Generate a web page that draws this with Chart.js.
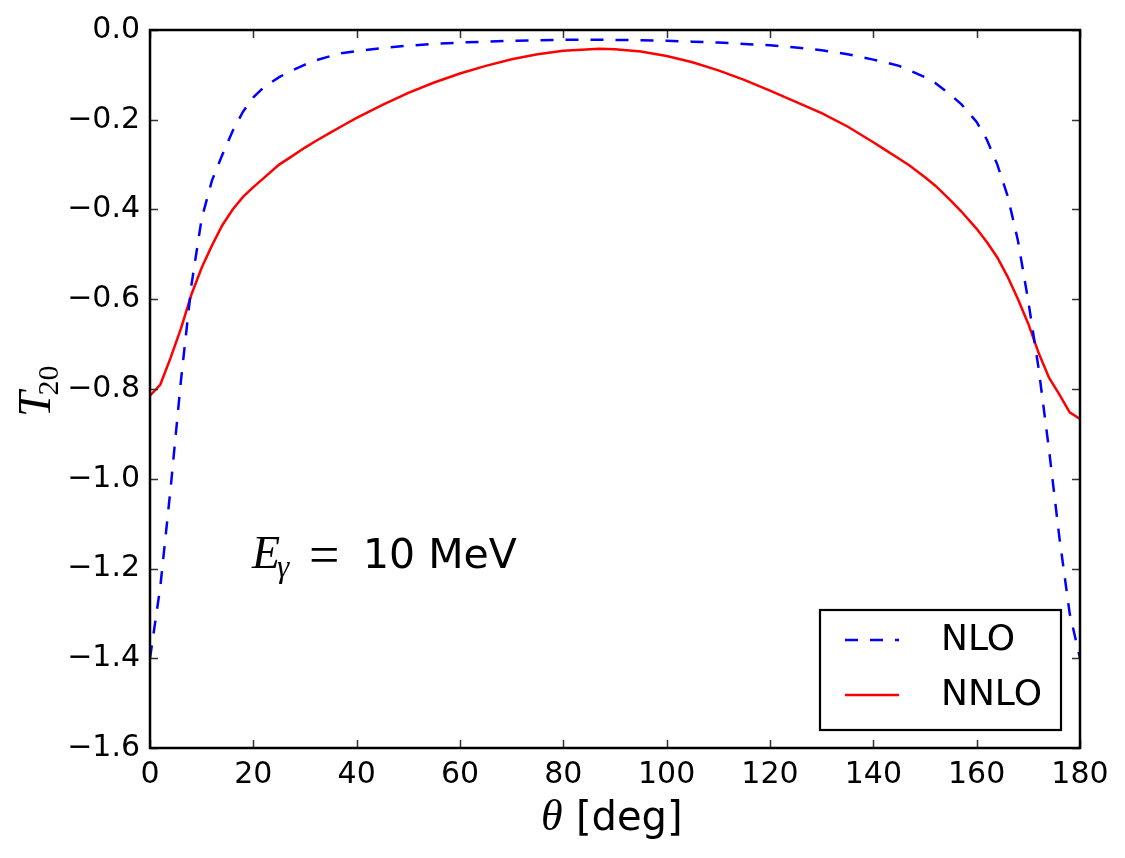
<!DOCTYPE html>
<html>
<head>
<meta charset="utf-8">
<script src="https://cdn.jsdelivr.net/npm/chart.js@4.4.1/dist/chart.umd.min.js"></script>
<style>
  html, body { margin:0; padding:0; background:#fff; }
  #wrap { width:1125px; height:858px; position:relative; }
</style>
</head>
<body>
<div id="wrap"><canvas id="c" width="1125" height="858"></canvas></div>
<script>
/* T20 vs theta at E_gamma = 10 MeV, NLO vs NNLO */

const theta = [0, 2, 4, 6, 8, 10, 12, 14, 16, 18, 20, 22, 25, 27, 30, 32, 35, 37, 40, 45, 50, 55, 60, 65, 70, 75, 80, 87, 90, 95, 100, 105, 110, 115, 120, 125, 130, 135, 140, 142, 145, 147, 150, 152, 155, 157, 160, 162, 164, 166, 168, 170, 172, 174, 176, 178, 180];
const nlo = [-1.40, -1.24, -1.02, -0.78, -0.57, -0.42, -0.335, -0.278, -0.225, -0.182, -0.15, -0.128, -0.105, -0.093, -0.077, -0.068, -0.058, -0.052, -0.047, -0.040, -0.035, -0.031, -0.028, -0.026, -0.024, -0.023, -0.022, -0.022, -0.022, -0.023, -0.024, -0.026, -0.028, -0.031, -0.034, -0.039, -0.045, -0.054, -0.066, -0.071, -0.08, -0.09, -0.105, -0.118, -0.145, -0.165, -0.205, -0.245, -0.30, -0.37, -0.47, -0.605, -0.755, -0.935, -1.13, -1.30, -1.40];
const nnlo = [-0.815, -0.79, -0.73, -0.665, -0.59, -0.53, -0.48, -0.435, -0.40, -0.372, -0.35, -0.33, -0.30, -0.285, -0.262, -0.248, -0.228, -0.215, -0.196, -0.167, -0.14, -0.117, -0.097, -0.08, -0.065, -0.054, -0.046, -0.042, -0.043, -0.048, -0.058, -0.072, -0.09, -0.111, -0.135, -0.16, -0.185, -0.215, -0.25, -0.265, -0.287, -0.302, -0.328, -0.347, -0.38, -0.404, -0.443, -0.473, -0.507, -0.55, -0.60, -0.655, -0.72, -0.775, -0.812, -0.852, -0.867];

const xTicks = [0, 20, 40, 60, 80, 100, 120, 140, 160, 180];
const yTicks = [0, -0.2, -0.4, -0.6, -0.8, -1.0, -1.2, -1.4, -1.6];

const toXY = (ys) => theta.map((t, i) => ({ x: t, y: ys[i] }));

const SANS = '"DejaVu Sans", sans-serif';
const SERIF = '"Liberation Serif", "DejaVu Serif", serif';

const decor = {
  id: 'decor',
  afterDraw(chart){
    const ctx = chart.ctx, a = chart.chartArea;
    const xs = chart.scales.x, ys = chart.scales.y;
    ctx.save();

    // inward ticks on all four sides
    ctx.strokeStyle = '#333';
    ctx.lineWidth = 1.5;
    const tl = 8;
    ctx.beginPath();
    xs.ticks.forEach(t => {
      const px = Math.round(xs.getPixelForValue(t.value)) + 0.5;
      ctx.moveTo(px, a.bottom); ctx.lineTo(px, a.bottom - tl);
      ctx.moveTo(px, a.top); ctx.lineTo(px, a.top + tl);
    });
    ys.ticks.forEach(t => {
      const py = Math.round(ys.getPixelForValue(t.value)) + 0.5;
      ctx.moveTo(a.left, py); ctx.lineTo(a.left + tl, py);
      ctx.moveTo(a.right, py); ctx.lineTo(a.right - tl, py);
    });
    ctx.stroke();

    // frame
    ctx.strokeStyle = '#000';
    ctx.lineWidth = 2.5;
    ctx.strokeRect(a.left, a.top, a.right - a.left, a.bottom - a.top);

    // legend
    const lx = 820, ly = 610, lw = 241, lh = 120;
    ctx.fillStyle = '#fff';
    ctx.fillRect(lx, ly, lw, lh);
    ctx.lineWidth = 2.2;
    ctx.strokeStyle = '#000';
    ctx.strokeRect(lx, ly, lw, lh);
    chart.data.datasets.forEach((ds, i) => {
      const yy = 640 + i * 55;
      ctx.beginPath();
      ctx.setLineDash(ds.borderDash || []);
      ctx.strokeStyle = ds.borderColor;
      ctx.lineWidth = ds.borderWidth;
      ctx.moveTo(845, yy); ctx.lineTo(899, yy);
      ctx.stroke();
      ctx.setLineDash([]);
      ctx.fillStyle = '#000';
      ctx.font = '36px ' + SANS;
      ctx.textAlign = 'left';
      ctx.textBaseline = 'middle';
      ctx.fillText(ds.label, 941, yy + 1);
    });

    // annotation
    ctx.fillStyle = '#000';
    ctx.textBaseline = 'alphabetic';
    ctx.textAlign = 'left';
    ctx.font = 'italic 46px ' + SERIF;
    ctx.fillText('E', 252, 568);
    let w = ctx.measureText('E').width;
    ctx.font = 'italic 31px ' + SERIF;
    ctx.fillText('\u03b3', 252 + w - 3, 577);
    ctx.font = '54px ' + SERIF;
    ctx.fillText('=', 309, 573);
    ctx.font = '41px ' + SANS;
    ctx.fillText('10 MeV', 363, 568);

    // x title
    ctx.font = 'italic 44px ' + SERIF;
    ctx.fillText('\u03b8', 541, 830);
    ctx.font = '40px ' + SANS;
    ctx.fillText('[deg]', 576, 830);

    // y title
    ctx.save();
    ctx.translate(50, 395);
    ctx.rotate(-Math.PI / 2);
    ctx.font = 'italic 46px ' + SERIF;
    ctx.fillText('T', -22, 0);
    w = ctx.measureText('T').width;
    ctx.font = '30px ' + SERIF;
    ctx.fillText('20', -22 + w - 4, 8);
    ctx.restore();

    ctx.restore();
  }
};

new Chart(document.getElementById('c'), {
  type: 'line',
  data: {
    datasets: [
      { label: 'NLO', data: toXY(nlo), borderColor: '#0000ff', borderWidth: 2.5, borderDash: [13, 12], pointRadius: 0, tension: 0, fill: false },
      { label: 'NNLO', data: toXY(nnlo), borderColor: '#ff0000', borderWidth: 2.5, pointRadius: 0, tension: 0, fill: false }
    ]
  },
  options: {
    responsive: false,
    animation: false,
    layout: { padding: { left: 0, right: 45, top: 30, bottom: 0 } },
    scales: {
      x: {
        type: 'linear', min: 0, max: 180,
        afterBuildTicks: (s) => { s.ticks = xTicks.map(v => ({ value: v })); },
        afterFit: (s) => { s.height = 110; },
        grid: { display: false, drawTicks: false },
        border: { display: false },
        ticks: { autoSkip: false, maxRotation: 0, padding: 9, color: '#000', font: { family: SANS, size: 30 },
          callback: (v) => String(v) }
      },
      y: {
        type: 'linear', min: -1.6, max: 0,
        afterBuildTicks: (s) => { s.ticks = yTicks.map(v => ({ value: v })); },
        afterFit: (s) => { s.width = 150; },
        grid: { display: false, drawTicks: false },
        border: { display: false },
        ticks: { autoSkip: false, padding: 10, color: '#000', font: { family: SANS, size: 30 },
          callback: (v) => (Math.abs(v) < 1e-9 ? '0.0' : v.toFixed(1)).replace('-', '\u2212') }
      }
    },
    plugins: { legend: { display: false }, tooltip: { enabled: false } }
  },
  plugins: [decor]
});
</script>
</body>
</html>
